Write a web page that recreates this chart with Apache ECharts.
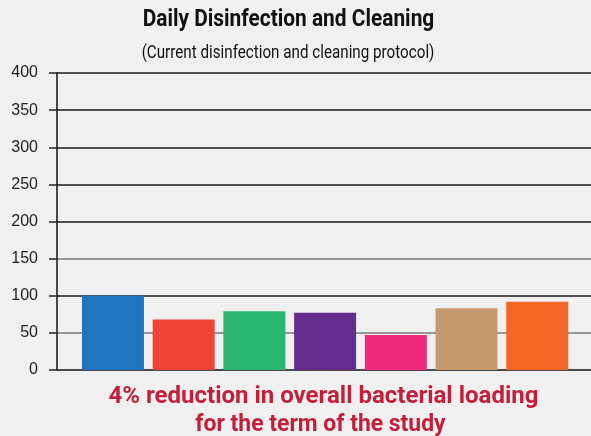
<!DOCTYPE html>
<html><head><meta charset="utf-8">
<script src="https://cdn.jsdelivr.net/npm/echarts@6/dist/echarts.min.js"></script>
<style>html,body{margin:0;padding:0;background:#f0f0f0;}#c{width:591px;height:436px;}</style>
</head><body><div id="c"></div>
<script>
const categories = ['A','B','C','D','E','F','G'];
const values = [100, 68, 79, 77, 47, 83, 92];
const barColors = ['#1f74bd','#f04236','#2db672','#642d8f','#ef2a7a','#c59b6d','#f46624'];
const yTicks = { min: 0, max: 400, interval: 50 };
const titleText = 'Daily Disinfection and Cleaning';
const subtitleText = '(Current disinfection and cleaning protocol)';
const noteLines = ['4% reduction in overall bacterial loading', 'for the term of the study'];

const narrow = '"Roboto", "Liberation Sans", sans-serif';
const chart = echarts.init(document.getElementById('c'));
const gridTop = 73, gridH = 297;
chart.setOption({
  backgroundColor: '#f0f0f0',
  animation: false,
  grid: [
    { left: 57, right: 0, top: gridTop, height: gridH },
    { left: 77.6, width: 495, top: gridTop, height: gridH }
  ],
  xAxis: [
    { gridIndex: 0, type: 'category', data: categories, show: false },
    { gridIndex: 1, type: 'category', data: categories, show: false }
  ],
  yAxis: [
    { gridIndex: 0, type: 'value', min: yTicks.min, max: yTicks.max, interval: yTicks.interval,
      axisLine: { show: true, lineStyle: { color: '#111', width: 1.5 } },
      axisTick: { show: true, length: 8, lineStyle: { color: '#222', width: 1.5 } },
      axisLabel: { fontSize: 16, color: '#222', margin: 19, fontFamily: '"Liberation Sans", Arial, sans-serif' },
      splitLine: { show: true, lineStyle: { width: 1.5, color: ['#111','#7a7a7a','#1a1a1a','#7a7a7a','#1a1a1a','#1a1a1a','#1a1a1a','#1a1a1a','#1a1a1a'] } }
    },
    { gridIndex: 1, type: 'value', min: yTicks.min, max: yTicks.max, show: false, splitLine: { show: false } }
  ],
  series: [{
    type: 'bar', xAxisIndex: 1, yAxisIndex: 1, barWidth: 62,
    data: values.map((v, i) => ({ value: v, itemStyle: { color: barColors[i] } }))
  }],
  graphic: [
    { type: 'text', x: 288.5, y: 20, scaleX: 0.87, style: { text: titleText, textAlign: 'center', textVerticalAlign: 'middle', font: 'bold 24px ' + narrow, fill: '#111' } },
    { type: 'text', x: 288, y: 53, scaleX: 0.8, style: { text: subtitleText, textAlign: 'center', textVerticalAlign: 'middle', font: '19px ' + narrow, fill: '#111' } },
    { type: 'text', x: 323.5, y: 397, scaleX: 1.0, style: { text: noteLines[0], textAlign: 'center', textVerticalAlign: 'middle', font: 'bold 24px ' + narrow, fill: '#c21f3a' } },
    { type: 'text', x: 320.5, y: 425, scaleX: 0.955, style: { text: noteLines[1], textAlign: 'center', textVerticalAlign: 'middle', font: 'bold 24px ' + narrow, fill: '#c21f3a' } }
  ]
});
</script></body></html>
